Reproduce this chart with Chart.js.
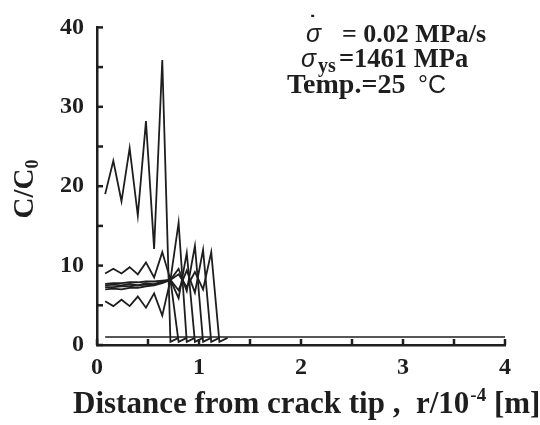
<!DOCTYPE html>
<html>
<head>
<meta charset="utf-8">
<script src="https://cdn.jsdelivr.net/npm/chart.js@4.4.0/dist/chart.umd.min.js"></script>
<style>
  html, body { margin: 0; padding: 0; background: #fff; }
  #wrap { width: 540px; height: 425px; }
</style>
</head>
<body>
<div id="wrap"><canvas id="chart1" width="540" height="425"></canvas></div>
<script>
// distancia al frente de grieta, r/10^-4 m
const xValues = [0.08, 0.16, 0.24, 0.32, 0.40, 0.48, 0.56, 0.64, 0.72, 0.80, 0.88, 0.96, 1.04, 1.12, 1.20, 1.28];

// C/C0 para cada curva; null = la curva ya terminó
const curve1 = [19.0, 23.2, 18.1, 24.8, 16.3, 28.2, 12.1, 35.9, 0.4, 0.9, null, null, null, null, null, null];
const curve2 = [7.5, 7.6, 7.5, 7.7, 7.5, 7.8, 7.6, 8.0, 8.2, 0.4, 0.9, null, null, null, null, null];
const curve3 = [9.0, 9.6, 9.0, 9.8, 8.9, 10.4, 8.5, 11.7, 8.2, 15.4, 0.4, 0.9, null, null, null, null];
const curve4 = [5.5, 4.9, 5.7, 4.9, 6.1, 4.7, 6.5, 3.7, 8.2, 5.9, 11.6, 0.4, 0.9, null, null, null];
const curve5 = [7.3, 7.3, 7.4, 7.4, 7.5, 7.6, 7.7, 7.9, 8.2, 9.6, 6.8, 12.5, 0.4, 0.9, null, null];
const curve6 = [7.0, 7.1, 7.0, 7.2, 7.2, 7.4, 7.5, 7.8, 8.2, 6.9, 9.4, 6.6, 12.0, 0.4, 0.9, null];
const curve7 = [7.7, 7.8, 7.8, 7.9, 7.9, 8.0, 8.0, 8.1, 8.2, 8.9, 7.3, 9.2, 7.0, 11.7, 0.4, 0.9];

// línea de referencia C/C0 = 1
const refX = [0.08, 4.0];
const refY = [1, 1];

const xTicks = [0, 1, 2, 3, 4];
const yTicks = [0, 10, 20, 30, 40];

const serif = '"Liberation Serif", "Times New Roman", serif';
const sans = '"Liberation Sans", Arial, sans-serif';
const ink = '#1e1e1e';

function toPoints(xs, ys) {
    return xs.map((x, i) => ({ x: x, y: ys[i] })).filter((p) => p.y !== null);
}

const curves = [curve1, curve2, curve3, curve4, curve5, curve6, curve7];
const datasets = curves.map((c) => ({
    data: toPoints(xValues, c),
    borderColor: ink,
    borderWidth: 1.8,
    pointRadius: 0,
    showLine: true,
    tension: 0,
}));
datasets.push({
    data: toPoints(refX, refY),
    borderColor: ink,
    borderWidth: 1.5,
    pointRadius: 0,
    showLine: true,
});

// marcas de escala hacia dentro
const insideTicks = {
    id: 'insideTicks',
    afterDraw(chart) {
        const ctx = chart.ctx;
        const xs = chart.scales.x;
        const ys = chart.scales.y;
        const area = chart.chartArea;
        ctx.save();
        ctx.strokeStyle = ink;
        ctx.lineWidth = 2.5;
        for (let v = 0; v <= 4; v += 0.5) {
            const px = xs.getPixelForValue(v);
            ctx.beginPath();
            ctx.moveTo(px, area.bottom);
            ctx.lineTo(px, area.bottom - 6);
            ctx.stroke();
        }
        for (let v = 0; v <= 40; v += 5) {
            const py = ys.getPixelForValue(v);
            ctx.beginPath();
            ctx.moveTo(area.left, py);
            ctx.lineTo(area.left + 6, py);
            ctx.stroke();
        }
        ctx.restore();
    },
};

// títulos de ejes y anotación (con sub/superíndices)
const labels = {
    id: 'labels',
    afterDraw(chart) {
        const ctx = chart.ctx;
        ctx.save();
        ctx.fillStyle = ink;
        ctx.textBaseline = 'alphabetic';
        ctx.textAlign = 'left';

        // eje y: C/C0
        ctx.save();
        ctx.translate(33, 189);
        ctx.rotate(-Math.PI / 2);
        ctx.font = 'bold 29px ' + serif;
        const w1 = ctx.measureText('C/C').width;
        ctx.font = 'bold 18px ' + serif;
        const w2 = ctx.measureText('0').width;
        let sx = -(w1 + w2) / 2;
        ctx.font = 'bold 29px ' + serif;
        ctx.fillText('C/C', sx, 0);
        ctx.font = 'bold 18px ' + serif;
        ctx.fillText('0', sx + w1, 5);
        ctx.restore();

        // eje x
        ctx.font = 'bold 31px ' + serif;
        let x = 73;
        const part1 = 'Distance from crack tip ,  r/10';
        ctx.fillText(part1, x, 413);
        x += ctx.measureText(part1).width;
        ctx.font = 'bold 19px ' + serif;
        ctx.fillText('-4', x + 1, 401);
        x += ctx.measureText('-4').width + 1;
        ctx.font = 'bold 31px ' + serif;
        ctx.fillText(' [m]', x, 413);

        // anotación
        ctx.font = 'italic 25px ' + sans;
        ctx.fillText('σ', 306, 42);
        ctx.font = 'bold 22px ' + sans;
        ctx.fillText('˙', 309, 31);
        ctx.font = 'bold 26px ' + serif;
        ctx.fillText('= 0.02 MPa/s', 342, 42);

        ctx.font = 'italic 25px ' + sans;
        ctx.fillText('σ', 301, 67);
        ctx.font = 'bold 20px ' + serif;
        ctx.fillText('ys', 318, 72);
        ctx.font = 'bold 26.5px ' + serif;
        ctx.fillText('=1461 MPa', 339, 67);

        ctx.font = 'bold 28px ' + serif;
        ctx.fillText('Temp.=25', 287, 93);
        ctx.font = '25px ' + sans;
        ctx.fillText('°C', 418, 93);
        ctx.restore();
    },
};

new Chart(document.getElementById('chart1').getContext('2d'), {
    type: 'scatter',
    data: { datasets: datasets },
    options: {
        responsive: false,
        animation: false,
        devicePixelRatio: 1,
        layout: { padding: { top: 16, right: 35, left: 0, bottom: 0 } },
        plugins: { legend: { display: false }, tooltip: { enabled: false } },
        scales: {
            x: {
                type: 'linear',
                min: 0,
                max: 4,
                afterFit: (scale) => { scale.height = 80; },
                afterBuildTicks: (scale) => { scale.ticks = xTicks.map((v) => ({ value: v })); },
                ticks: {
                    color: ink,
                    padding: 8,
                    maxRotation: 0,
                    font: { family: serif, size: 24, weight: 'bold' },
                    callback: (v) => String(v),
                },
                grid: { display: true, drawOnChartArea: false, drawTicks: false },
                border: { display: true, color: ink, width: 2.5 },
            },
            y: {
                min: 0,
                max: 40,
                afterFit: (scale) => { scale.width = 97; },
                afterBuildTicks: (scale) => { scale.ticks = yTicks.map((v) => ({ value: v })); },
                ticks: {
                    color: ink,
                    padding: 13,
                    font: { family: serif, size: 24, weight: 'bold' },
                    callback: (v) => String(v),
                },
                grid: { display: true, drawOnChartArea: false, drawTicks: false },
                border: { display: true, color: ink, width: 2.5 },
            },
        },
    },
    plugins: [insideTicks, labels],
});
</script>
</body>
</html>
